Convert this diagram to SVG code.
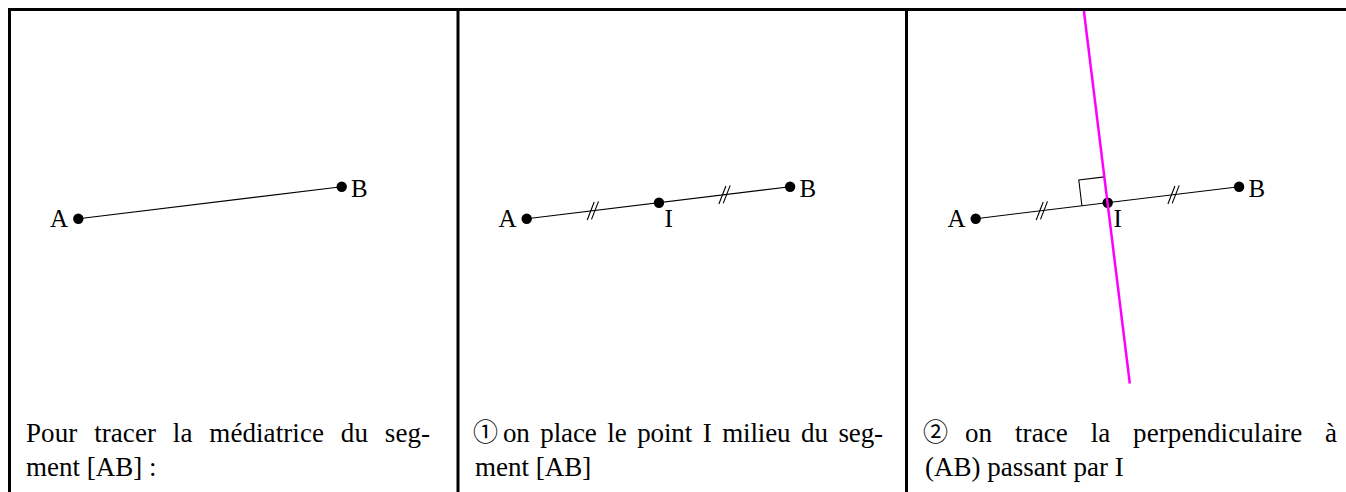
<svg xmlns="http://www.w3.org/2000/svg" width="1346" height="492" viewBox="0 0 1346 492">
<style>
.frame{stroke:#000;stroke-width:3;fill:none}
.seg{stroke:#000;stroke-width:1.1;fill:none}
.tick{stroke:#000;stroke-width:1.1;fill:none}
.dot{fill:#000}
.lbl{font-family:"Liberation Serif","DejaVu Serif",serif;font-size:25px;fill:#000}
.txt{font-family:"Liberation Serif","DejaVu Sans","Noto Sans CJK JP",serif;font-size:27px;fill:#000}
.num{font-family:"Noto Sans CJK JP","DejaVu Sans",sans-serif;font-size:25px;fill:#000}
.perp{stroke:#ff00ff;stroke-width:2.5;fill:none}
</style>
<rect width="1346" height="492" fill="#fff"/>
<g id="frame">
<path class="frame" d="M9.5 500 V9.5 H1346"/>
<line class="frame" x1="458" y1="9.5" x2="458" y2="500"/>
<line class="frame" x1="906.5" y1="9.5" x2="906.5" y2="500"/>
</g>
<g id="panel1">
<line class="seg" x1="78.3" y1="218.7" x2="341.7" y2="186.7"/>
<circle class="dot" cx="78.3" cy="218.7" r="5.2"/>
<circle class="dot" cx="341.7" cy="186.7" r="5.2"/>
<text class="lbl" x="50" y="227">A</text>
<text class="lbl" x="351" y="196.5">B</text>
<text class="txt" x="26" y="442" word-spacing="10" textLength="404" lengthAdjust="spacing">Pour tracer la médiatrice du seg-</text>
<text class="txt" x="26" y="476">ment [AB] :</text>
</g>
<g id="panel2">
<g transform="translate(448.4 0)">
<line class="seg" x1="78.3" y1="218.7" x2="341.7" y2="186.7"/>
<path class="tick" d="M138.8 220 L145.8 202 M143.1 219.4 L150.1 201.4 M270.5 204 L277.5 186 M274.8 203.4 L281.8 185.4"/>
<circle class="dot" cx="78.3" cy="218.7" r="5.2"/>
<circle class="dot" cx="210.6" cy="202.7" r="5.2"/>
<circle class="dot" cx="341.7" cy="186.7" r="5.2"/>
<text class="lbl" x="50" y="227">A</text>
<text class="lbl" x="351" y="196.5">B</text>
<text class="lbl" x="216" y="226.5">I</text>
</g>
<text class="num" x="473" y="441">①</text>
<text class="txt" x="503" y="442" word-spacing="4" textLength="380" lengthAdjust="spacing">on place le point I milieu du seg-</text>
<text class="txt" x="475" y="476">ment [AB]</text>
</g>
<g id="panel3">
<g transform="translate(897.4 0)">
<line class="seg" x1="78.3" y1="218.7" x2="341.7" y2="186.7"/>
<path class="tick" d="M138.8 220 L145.8 202 M143.1 219.4 L150.1 201.4 M270.5 204 L277.5 186 M274.8 203.4 L281.8 185.4"/>
<path class="seg" d="M184.5 205.8 L181.4 180 L207.2 176.9"/>
<circle class="dot" cx="78.3" cy="218.7" r="5.2"/>
<circle class="dot" cx="210.3" cy="202.7" r="5.2"/>
<circle class="dot" cx="341.7" cy="186.7" r="5.2"/>
<text class="lbl" x="50" y="227">A</text>
<text class="lbl" x="351" y="196.5">B</text>
<text class="lbl" x="216" y="226.5">I</text>
</g>
<line class="perp" x1="1083.9" y1="11" x2="1129.8" y2="383.5"/>
<text class="num" x="923" y="441">②</text>
<text class="txt" x="965" y="442" word-spacing="16" textLength="372" lengthAdjust="spacing">on trace la perpendiculaire à</text>
<text class="txt" x="925" y="476">(AB) passant par I</text>
</g>
</svg>
